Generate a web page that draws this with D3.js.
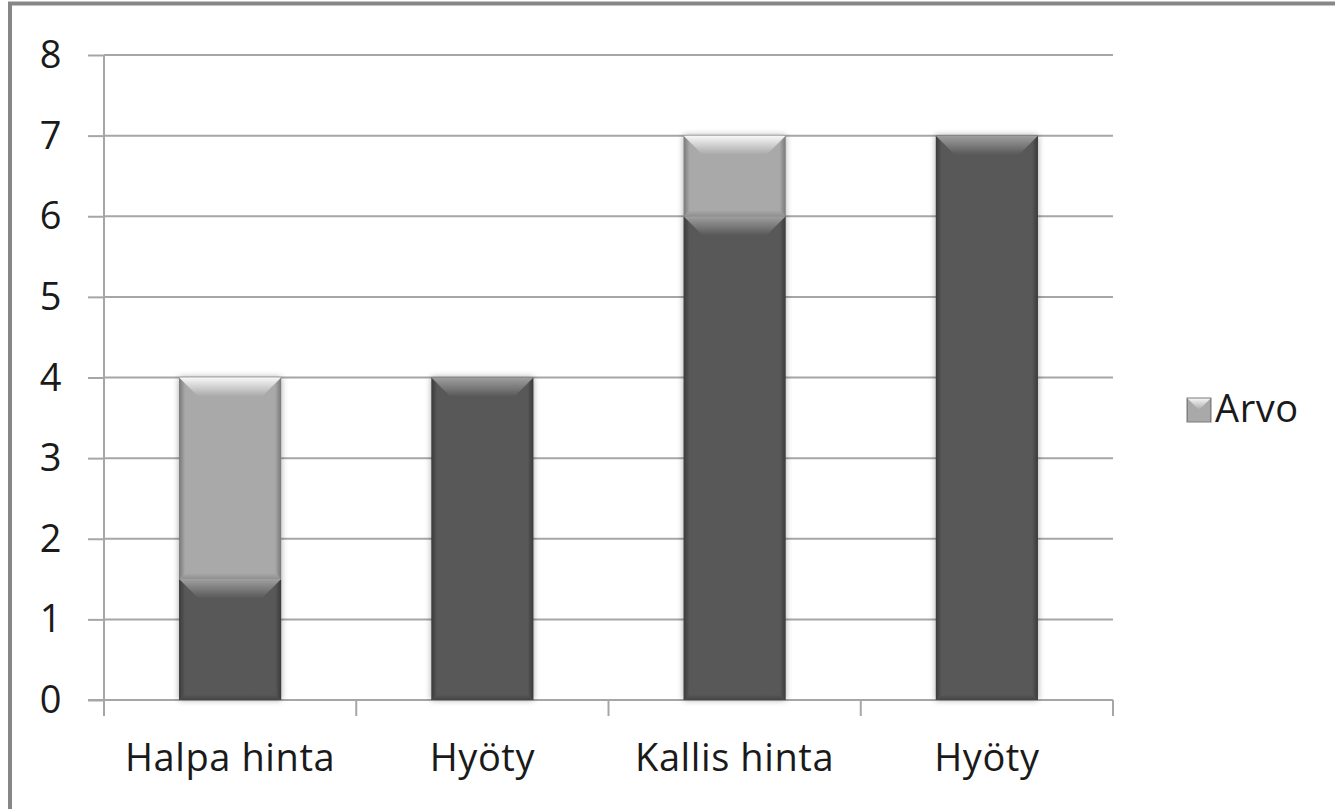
<!DOCTYPE html>
<html>
<head>
<meta charset="utf-8">
<script src="https://cdn.jsdelivr.net/npm/d3@7"></script>
<style>
  body { margin: 0; background: #fff; }
  svg { display: block; }
  text { font-family: "Open Sans", sans-serif; fill: #1a1a1a; letter-spacing: 0.6px; }
</style>
</head>
<body>
<div id="chart"></div>
<script>
const categories = ["Halpa hinta", "Hyöty", "Kallis hinta", "Hyöty"];
const baseValues = [1.5, 4, 6, 7];
const arvoValues = [2.5, 0, 1, 0];
const yTicks = [0, 1, 2, 3, 4, 5, 6, 7, 8];
const legendLabel = "Arvo";

const w = 1335, h = 809;
const plotLeft = 104, plotRight = 1113, plotTop = 55, plotBottom = 700;
const fontSize = 38;

const svg = d3.select("#chart").append("svg").attr("width", w).attr("height", h);
const defs = svg.append("defs");

// outer frame (only top and left visible)
svg.append("rect").attr("x", 10).attr("y", 3.5).attr("width", w + 20).attr("height", h + 20)
  .attr("fill", "none").attr("stroke", "#878787").attr("stroke-width", 4);

const xScale = d3.scaleBand().domain(d3.range(categories.length)).range([plotLeft, plotRight])
  .paddingInner(0.595).paddingOuter(0.2975);
const yScale = d3.scaleLinear().domain([0, 8]).range([plotBottom, plotTop]);

// gridlines
svg.append("g").selectAll("line").data(yTicks.filter((d) => d > 0)).join("line")
  .attr("x1", plotLeft).attr("x2", plotRight)
  .attr("y1", (d) => yScale(d)).attr("y2", (d) => yScale(d))
  .attr("stroke", "#a6a6a6").attr("stroke-width", 2);

// y axis
const yAxis = svg.append("g").attr("transform", `translate(${plotLeft},0)`)
  .call(d3.axisLeft(yScale).tickValues(yTicks).tickSize(16).tickPadding(26).tickFormat(d3.format("d")));
yAxis.select(".domain").attr("stroke", "#a6a6a6").attr("stroke-width", 2).attr("d", `M0,${plotTop}V${plotBottom}`);
yAxis.selectAll(".tick line").attr("stroke", "#a6a6a6").attr("stroke-width", 2);
yAxis.selectAll(".tick text").attr("font-size", fontSize).attr("dy", "0.33em").attr("fill", "#1a1a1a")
  .attr("font-family", "Open Sans, sans-serif");

// x axis
const step = xScale.step();
const bounds = d3.range(categories.length + 1).map((i) => plotLeft + i * step);
const xg = svg.append("g");
xg.append("line").attr("x1", plotLeft - 16).attr("x2", plotRight).attr("y1", plotBottom).attr("y2", plotBottom)
  .attr("stroke", "#a6a6a6").attr("stroke-width", 2);
xg.selectAll("line.tk").data(bounds).join("line").attr("class", "tk")
  .attr("x1", (d) => d).attr("x2", (d) => d).attr("y1", plotBottom).attr("y2", plotBottom + 16)
  .attr("stroke", "#a6a6a6").attr("stroke-width", 2);
xg.selectAll("text").data(categories).join("text")
  .attr("x", (d, i) => xScale(i) + xScale.bandwidth() / 2)
  .attr("y", 771).attr("text-anchor", "middle").attr("font-size", fontSize)
  .text((d) => d);

// bevel gradients
function gradients(id, c) {
  const side = defs.append("linearGradient").attr("id", id + "-side").attr("x1", 0).attr("x2", 1).attr("y1", 0).attr("y2", 0);
  side.append("stop").attr("offset", 0).attr("stop-color", c.edge);
  side.append("stop").attr("offset", 0.06).attr("stop-color", c.base);
  side.append("stop").attr("offset", 0.94).attr("stop-color", c.base);
  side.append("stop").attr("offset", 1).attr("stop-color", c.edge);
  const topG = defs.append("linearGradient").attr("id", id + "-top").attr("x1", 0).attr("x2", 0).attr("y1", 0).attr("y2", 1);
  topG.append("stop").attr("offset", 0).attr("stop-color", c.hi);
  topG.append("stop").attr("offset", 1).attr("stop-color", c.base);
  const botG = defs.append("linearGradient").attr("id", id + "-bot").attr("x1", 0).attr("x2", 0).attr("y1", 0).attr("y2", 1);
  botG.append("stop").attr("offset", 0).attr("stop-color", c.base);
  botG.append("stop").attr("offset", 1).attr("stop-color", c.lo);
}
const dark = { base: "#595959", edge: "#3a3a3a", hi: "#a0a0a0", lo: "#454545" };
const light = { base: "#a9a9a9", edge: "#787878", hi: "#f8f8f8", lo: "#8f8f8f" };
gradients("dark", dark);
gradients("light", light);

const shadow = defs.append("filter").attr("id", "shadow").attr("x", -0.2).attr("y", -0.1).attr("width", 1.4).attr("height", 1.2);
shadow.append("feDropShadow").attr("dx", 0).attr("dy", 0).attr("stdDeviation", 3).attr("flood-color", "#000").attr("flood-opacity", 0.35);

function segment(g, x, y0, y1, bw, id) {
  const y = yScale(y1), hgt = yScale(y0) - yScale(y1);
  const b = Math.min(19, hgt / 2);
  g.append("rect").attr("x", x).attr("y", y).attr("width", bw).attr("height", hgt).attr("fill", `url(#${id}-side)`);
  g.append("polygon")
    .attr("points", [[x, y], [x + bw, y], [x + bw - b, y + b], [x + b, y + b]].join(" "))
    .attr("fill", `url(#${id}-top)`);
  g.append("polygon")
    .attr("points", [[x, y + hgt], [x + bw, y + hgt], [x + bw - 6, y + hgt - 6], [x + 6, y + hgt - 6]].join(" "))
    .attr("fill", `url(#${id}-bot)`);
}

const bars = svg.append("g");
categories.forEach((c, i) => {
  const x = xScale(i), bw = xScale.bandwidth();
  const g = bars.append("g").attr("filter", "url(#shadow)");
  segment(g, x, 0, baseValues[i], bw, "dark");
  if (arvoValues[i] > 0) segment(g, x, baseValues[i], baseValues[i] + arvoValues[i], bw, "light");
});

// legend
const lg = svg.append("g").attr("transform", "translate(1187,398)");
const lgSize = 24;
lg.append("rect").attr("width", lgSize).attr("height", lgSize).attr("fill", "url(#light-side)");
lg.append("polygon").attr("points", [[0, 0], [lgSize, 0], [lgSize / 2, lgSize / 2]].join(" ")).attr("fill", "url(#light-top)");
lg.append("rect").attr("width", lgSize).attr("height", lgSize).attr("fill", "none").attr("stroke", "#7a7a7a").attr("stroke-width", 1);
lg.append("text").attr("x", 28).attr("y", 24).attr("font-size", fontSize).text(legendLabel);
</script>
</body>
</html>
